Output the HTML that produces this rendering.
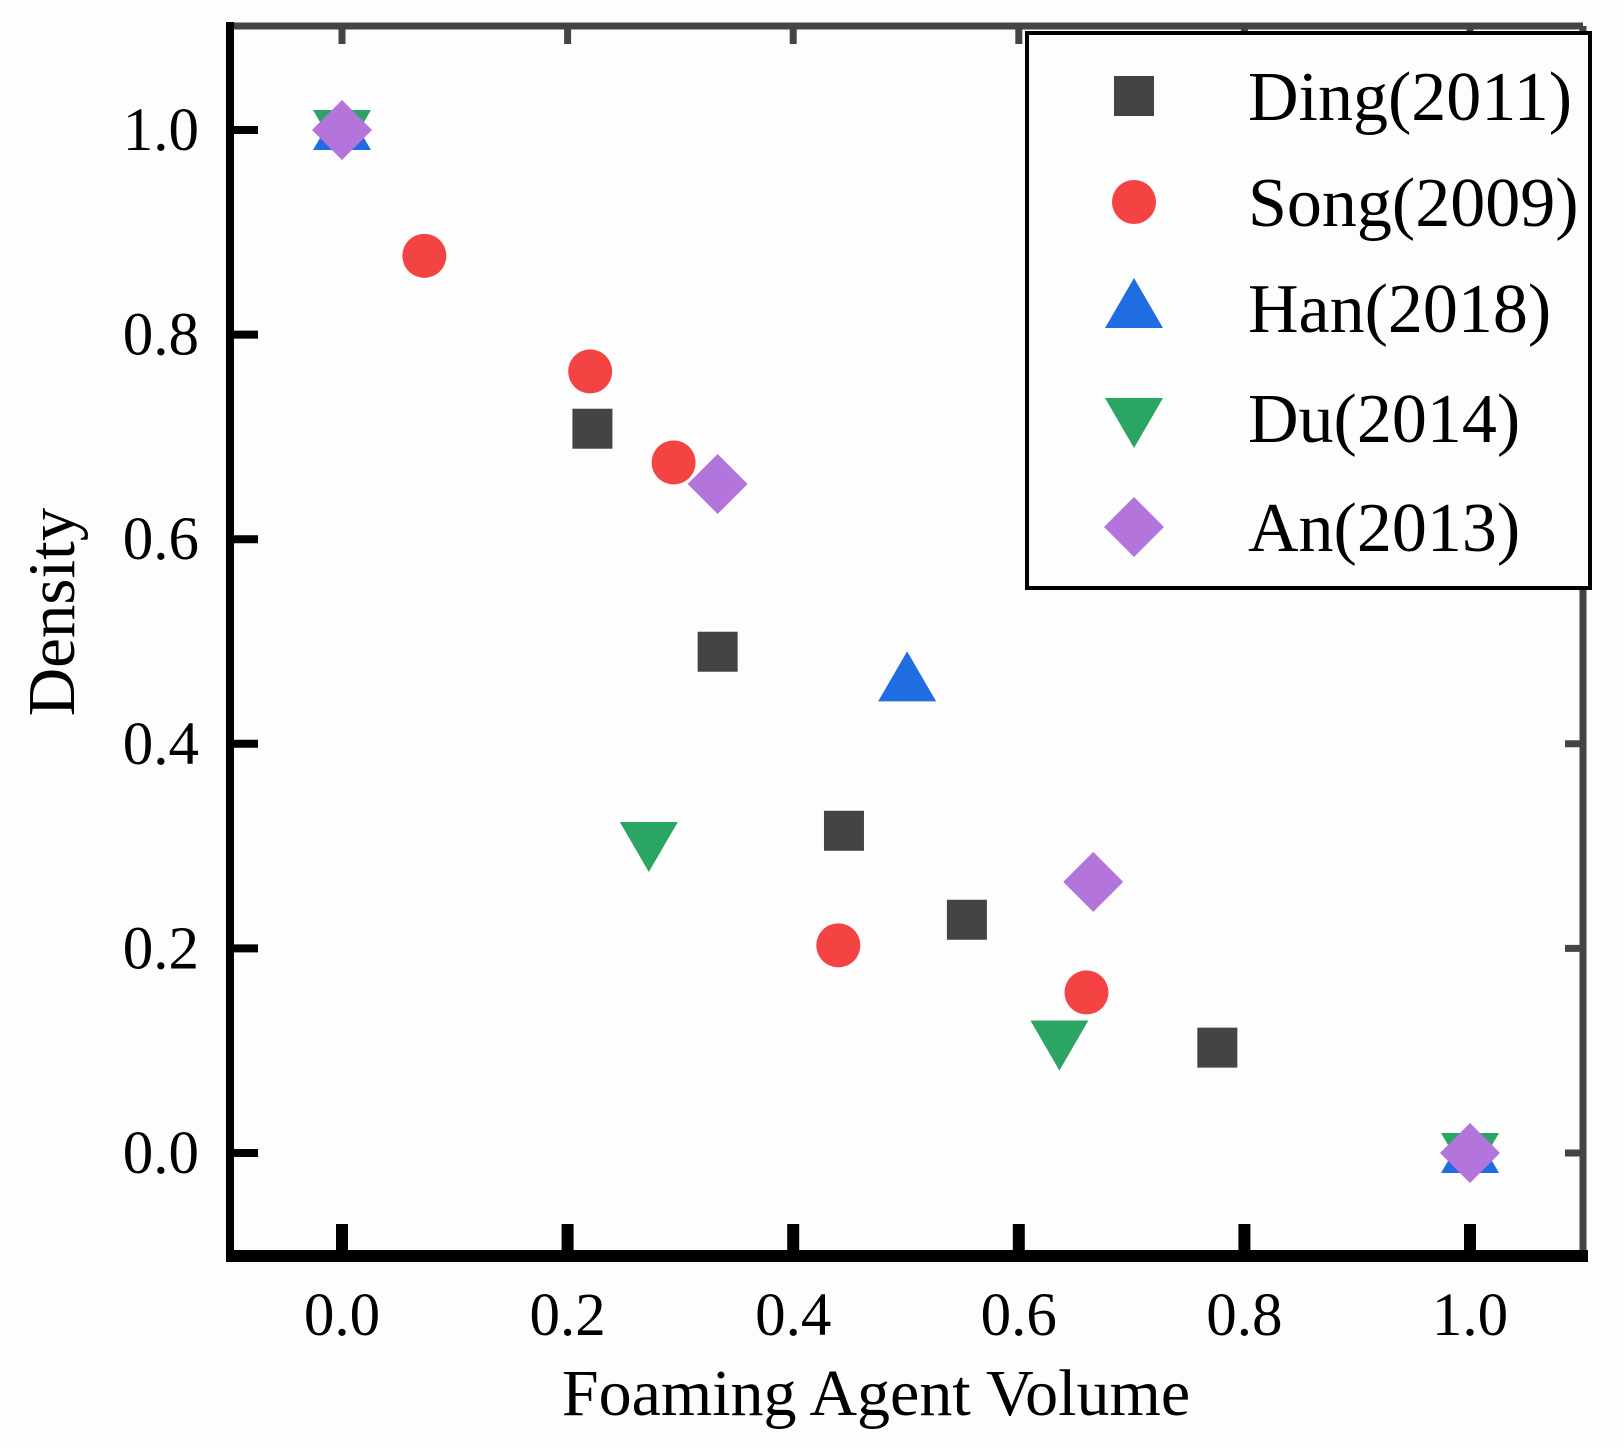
<!DOCTYPE html>
<html><head><meta charset="utf-8"><style>
html,body{margin:0;padding:0;background:#fdfdfd;}
svg{display:block;font-family:"Liberation Serif",serif;}
</style></head><body>
<svg id="chart" width="1623" height="1449" viewBox="0 0 1623 1449" xmlns="http://www.w3.org/2000/svg">
<rect width="1623" height="1449" fill="#fdfdfd"/>
<g id="frame"></g>
<g id="marks"></g>
<g id="legend"></g>
</svg>
<script>
const xTicks=[0,0.2,0.4,0.6,0.8,1.0];
const yTicks=[0,0.2,0.4,0.6,0.8,1.0];
const xTickLabels=["0.0","0.2","0.4","0.6","0.8","1.0"];
const yTickLabels=["0.0","0.2","0.4","0.6","0.8","1.0"];
const seriesNames=["Ding(2011)","Song(2009)","Han(2018)","Du(2014)","An(2013)"];
const dingX=[0,0.222,0.333,0.445,0.554,0.776,1];
const dingY=[1,0.708,0.49,0.315,0.228,0.103,0];
const songX=[0,0.073,0.22,0.294,0.44,0.66,1];
const songY=[1,0.877,0.764,0.675,0.203,0.157,0];
const hanX=[0,0.501,1];
const hanY=[1,0.461,0];
const duX=[0,0.272,0.636,1];
const duY=[1,0.304,0.11,0];
const anX=[0,0.333,0.666,1];
const anY=[1,0.654,0.265,0];

const NS="http://www.w3.org/2000/svg";
const X=v=>342+v*1128;
const Y=v=>1153-v*1023;
function mk(tag,attrs,parent,text){const e=document.createElementNS(NS,tag);for(const k in attrs)e.setAttribute(k,attrs[k]);if(text!==undefined)e.textContent=text;parent.appendChild(e);return e;}
const frame=document.getElementById('frame');
let a;
a=mk('line',{x1:230,y1:26,x2:1583,y2:26,stroke:'#444','stroke-width':7},frame);

a=mk('line',{x1:1583,y1:26,x2:1583,y2:1258,stroke:'#444','stroke-width':7},frame);

a=mk('line',{x1:230,y1:22,x2:230,y2:1262,stroke:'#000','stroke-width':8},frame);

a=mk('line',{x1:226,y1:1256,x2:1588,y2:1256,stroke:'#000','stroke-width':12},frame);

xTicks.forEach((t,i)=>{
  let l=mk('line',{x1:X(t),y1:1250,x2:X(t),y2:1224,stroke:'#000','stroke-width':12},frame);
  
  l=mk('line',{x1:X(t),y1:26,x2:X(t),y2:44,stroke:'#444','stroke-width':7},frame);
  
  const tx=mk('text',{x:X(t),y:1335,'font-size':61,'text-anchor':'middle',fill:'#000'},frame,xTickLabels[i]);
  
});
yTicks.forEach((t,i)=>{
  let l=mk('line',{x1:230,y1:Y(t),x2:258,y2:Y(t),stroke:'#000','stroke-width':8},frame);
  
  l=mk('line',{x1:1583,y1:Y(t),x2:1565,y2:Y(t),stroke:'#444','stroke-width':7},frame);
  
  const tx=mk('text',{x:199,y:Y(t)+20,'font-size':61,'text-anchor':'end',fill:'#000'},frame,yTickLabels[i]);
  
});
let t1=mk('text',{x:876,y:1415,'font-size':66,'text-anchor':'middle',fill:'#000'},frame,'Foaming Agent Volume');

let t2=mk('text',{x:0,y:0,'font-size':67,'text-anchor':'middle',fill:'#000',transform:'translate(74,612) rotate(-90)'},frame,'Density');


function marker(kind,cx,cy,g){
  let e;
  if(kind==0)e=mk('rect',{x:cx-20,y:cy-20,width:40,height:40,fill:'#444'},g);
  else if(kind==1)e=mk('circle',{cx:cx,cy:cy,r:22,fill:'#f44343'},g);
  else if(kind==2)e=mk('polygon',{points:`${cx},${cy-30} ${cx+29},${cy+20} ${cx-29},${cy+20}`,fill:'#1f6de0'},g);
  else if(kind==3)e=mk('polygon',{points:`${cx},${cy+30} ${cx+29},${cy-20} ${cx-29},${cy-20}`,fill:'#2ba564'},g);
  else e=mk('polygon',{points:`${cx},${cy-30} ${cx+30},${cy} ${cx},${cy+30} ${cx-30},${cy}`,fill:'#b374db'},g);
  return e;
}
const marks=document.getElementById('marks');
const all=[[dingX,dingY,'ding'],[songX,songY,'song'],[hanX,hanY,'han'],[duX,duY,'du'],[anX,anY,'an']];
all.forEach((s,k)=>{
  s[0].forEach((xv,i)=>{
    const m=marker(k,X(xv),Y(s[1][i]),marks);
    
    
  });
});
const lg=document.getElementById('legend');
let box=mk('rect',{x:1027,y:33,width:563,height:555,fill:'#fdfdfd',stroke:'#000','stroke-width':4},lg);

const rows=[96,202,308,418,527];
seriesNames.forEach((n,k)=>{
  const m=marker(k,1134,rows[k],lg);
  
  const tx=mk('text',{x:1248,y:rows[k]+24,'font-size':70,fill:'#000'},lg,n);
  
});
</script>
</body></html>
